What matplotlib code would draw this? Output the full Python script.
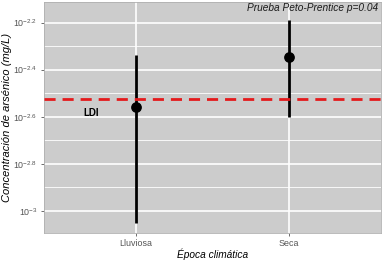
import matplotlib
matplotlib.use("Agg")
import matplotlib.pyplot as plt
import numpy as np

plt.rcParams['font.family'] = ['Liberation Sans', 'DejaVu Sans']
plt.rcParams['mathtext.fontset'] = 'custom'
plt.rcParams['mathtext.rm'] = 'Liberation Sans'
plt.rcParams['mathtext.it'] = 'Liberation Sans:italic'

# data (mg/L)
epocas = ["Lluviosa", "Seca"]
centro = [0.00277, 0.00449]
inferior = [0.00089, 0.00251]
superior = [0.00461, 0.00646]
ldi = 0.003
exps = [-3.0, -2.8, -2.6, -2.4, -2.2]
exps_minor = [-2.9, -2.7, -2.5, -2.3]

fig = plt.figure(figsize=(3.86, 2.62), dpi=100)
ax = fig.add_axes([0.113, 0.111, 0.874, 0.882])
ax.set_facecolor("#cccccc")

x = np.arange(1, len(epocas) + 1)
ax.set_yscale("log")
ax.set_xlim(0.4, 2.6)
ax.set_ylim(10 ** -3.094, 10 ** -2.112)

# grid
for e in exps_minor:
    ax.axhline(10 ** e, color="white", lw=0.6, zorder=1)
for e in exps:
    ax.axhline(10 ** e, color="white", lw=1.2, zorder=1)
for xi in x:
    ax.axvline(xi, color="white", lw=1.2, zorder=1)

ax.vlines(x, inferior, superior, color="black", lw=2, zorder=3)
ax.scatter(x, centro, s=45, color="black", zorder=4)
ax.axhline(ldi, color="#e41a1c", lw=2, ls=(0, (4, 2.5)), zorder=5)

ax.text(0.71, 10 ** -2.583, "LDI", fontsize=7, fontweight="bold",
        ha="center", va="center", zorder=6)
ax.text(2.58, 10 ** -2.14, "Prueba Peto-Prentice p=0.04", fontsize=7.3,
        style="italic", ha="right", va="center", color="#1a1a1a", zorder=6)

ax.set_yticks([10 ** e for e in exps])
ax.set_yticklabels(["$10^{%g}$" % e for e in exps])
ax.yaxis.set_minor_locator(matplotlib.ticker.NullLocator())
ax.set_xticks(x)
ax.set_xticklabels(epocas)
ax.tick_params(colors="#555555", labelcolor="#555555", labelsize=6.4,
               length=2.5, width=0.6, pad=2)

ax.set_ylabel("Concentración de arsénico (mg/L)", fontsize=8, style="italic",
              labelpad=1)
ax.set_xlabel("Época climática", fontsize=7.3, style="italic", labelpad=0)

for s in ax.spines.values():
    s.set_color("#b0b0b0")
    s.set_linewidth(0.6)

fig.savefig("out.png", dpi=100)
